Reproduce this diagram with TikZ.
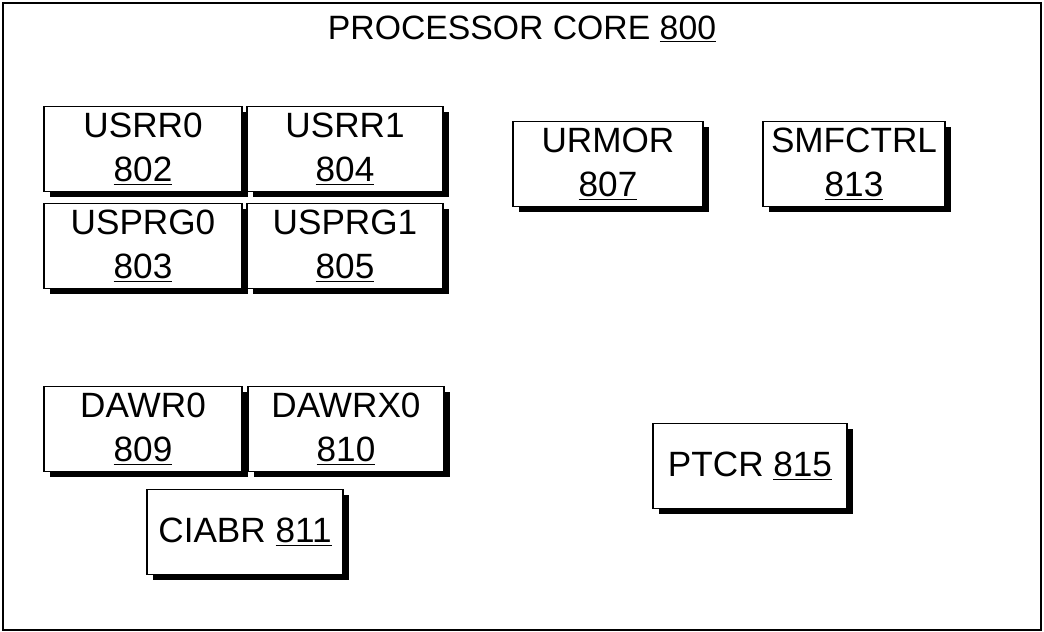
\documentclass[tikz,border=0pt]{standalone}
\usepackage{fontspec}
\setmainfont{Liberation Sans}
\usepackage{tikz}
\usetikzlibrary{shadows}

\newcommand{\refnum}[1]{\underline{#1}}

\begin{document}
\begin{tikzpicture}[
  x=0.25mm, y=-0.25mm,
  reg/.style={rectangle, draw, fill=white, line width=1.1pt, minimum width=48.5mm, minimum height=21.2mm, align=center, inner sep=1pt,
    drop shadow={shadow xshift=1.4mm, shadow yshift=-1.4mm, fill=black, opacity=1}},
  every node/.style={font=\fontsize{25}{31}\selectfont}
]
\useasboundingbox (0,0) rectangle (1044,632);

% core frame
\draw[line width=1.5pt] (3,3) rectangle (1041,630);
\node[font=\fontsize{24}{29}\selectfont] (core) at (522,29) {PROCESSOR CORE \refnum{800}};

% user registers
\node[reg, minimum width=49.5mm] (usrr0) at (143,149) {USRR0\\\refnum{802}};
\node[reg, minimum width=49mm] (usrr1) at (345,149) {USRR1\\\refnum{804}};
\node[reg, minimum width=49.5mm] (usprg0) at (143,246) {USPRG0\\\refnum{803}};
\node[reg, minimum width=49mm] (usprg1) at (345,246) {USPRG1\\\refnum{805}};

% mode / control registers
\node[reg, minimum width=47.5mm] (urmor) at (608,164) {URMOR\\\refnum{807}};
\node[reg, minimum width=45.5mm] (smfctrl) at (854,164) {SMFCTRL\\\refnum{813}};

% debug registers
\node[reg, minimum width=49.5mm] (dawr0) at (143,429) {DAWR0\\\refnum{809}};
\node[reg, minimum width=49mm] (dawrx0) at (346,429) {DAWRX0\\\refnum{810}};
\node[reg, minimum width=49mm] (ciabr) at (245,532) {CIABR \refnum{811}};

% partition table
\node[reg, minimum width=48.5mm] (ptcr) at (750,466) {PTCR \refnum{815}};

\end{tikzpicture}
\end{document}
